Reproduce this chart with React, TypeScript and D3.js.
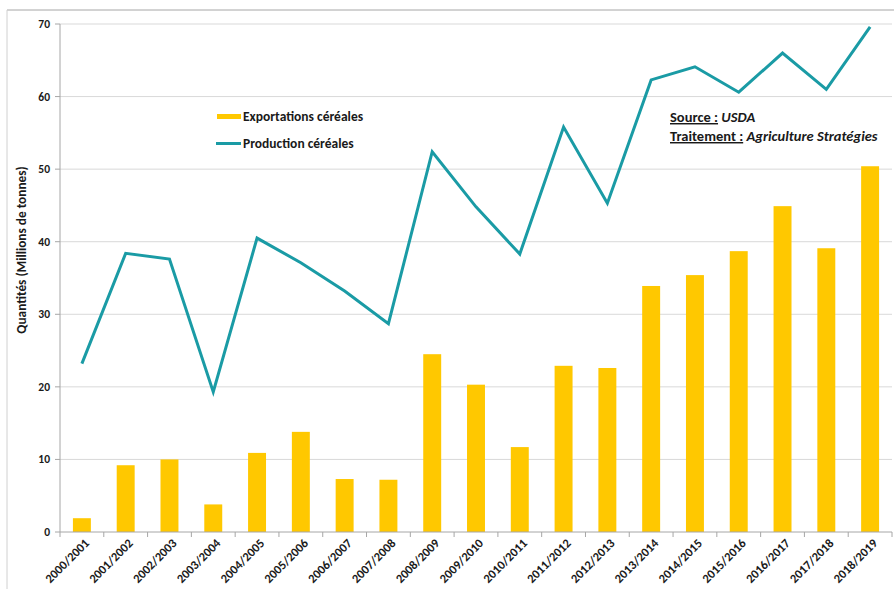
import React from "react";
import * as d3 from "d3";

const categories = ["2000/2001","2001/2002","2002/2003","2003/2004","2004/2005","2005/2006","2006/2007","2007/2008","2008/2009","2009/2010","2010/2011","2011/2012","2012/2013","2013/2014","2014/2015","2015/2016","2016/2017","2017/2018","2018/2019"];
const exportations = [1.9, 9.2, 10.0, 3.8, 10.9, 13.8, 7.3, 7.2, 24.5, 20.3, 11.7, 22.9, 22.6, 33.9, 35.4, 38.7, 44.9, 39.1, 50.4];
const production = [23.2, 38.4, 37.6, 19.3, 40.5, 37.1, 33.2, 28.7, 52.4, 44.8, 38.3, 55.8, 45.3, 62.3, 64.1, 60.6, 66.0, 61.0, 69.6];
const yTicks = [0, 10, 20, 30, 40, 50, 60, 70];

const W = 894, H = 589;
const left = 60, right = 892, top = 24, bottom = 532;
const BAR = "#FFC800";
const LINE = "#1A9BA5";
const FONT = "Carlito, Calibri, Lato, 'Open Sans', sans-serif";

export default function App() {
  const x = d3.scaleBand<string>().domain(categories).range([left, right]).paddingInner(0).paddingOuter(0);
  const y = d3.scaleLinear().domain([0, 70]).range([bottom, top]);
  const bw = x.bandwidth() * 0.41;
  const cx = (c: string) => (x(c) as number) + x.bandwidth() / 2;
  const line = d3.line<number>().x((_, i) => cx(categories[i])).y((v) => y(v));

  return (
    <div style={{ position: "absolute", left: 0, top: 0 }}>
      <svg width={W} height={H} style={{ display: "block", fontFamily: FONT }}>
        <rect x={0} y={0} width={W} height={H} fill="#fff" />
        <line x1={7} x2={W} y1={10} y2={10} stroke="#a6a6a6" strokeWidth={1} />
        <line x1={7} x2={7} y1={10} y2={H} stroke="#d0d0d0" strokeWidth={1} />
        {yTicks.map((t) => (
          <g key={t}>
            {t > 0 && <line x1={left} x2={right} y1={y(t)} y2={y(t)} stroke="#d9d9d9" strokeWidth={1} />}
            <line x1={left - 5} x2={left} y1={y(t)} y2={y(t)} stroke="#a6a6a6" />
            <text x={left - 10} y={y(t)} dy="0.35em" textAnchor="end" fontSize={11.5} fontWeight="bold" fill="#1a1a1a">{t}</text>
          </g>
        ))}
        <line x1={left} x2={left} y1={top} y2={bottom} stroke="#a6a6a6" />
        <text transform={`translate(26,250) rotate(-90)`} textAnchor="middle" fontSize={13.3} fontWeight="bold" fill="#1a1a1a">Quantités (Millions de tonnes)</text>
        {exportations.map((v, i) => (
          <rect key={i} x={cx(categories[i]) - bw / 2} y={y(v)} width={bw} height={y(0) - y(v)} fill={BAR} />
        ))}
        <line x1={left} x2={right} y1={bottom} y2={bottom} stroke="#a6a6a6" />
        {categories.map((c) => (
          <line key={c} x1={x(c) as number} x2={x(c) as number} y1={bottom} y2={bottom + 5} stroke="#a6a6a6" />
        ))}
        <line x1={right} x2={right} y1={bottom} y2={bottom + 5} stroke="#a6a6a6" />
        {categories.map((c) => (
          <text key={c} transform={`translate(${cx(c) + 5},${bottom + 9}) rotate(-45)`} textAnchor="end" dy="0.35em" fontSize={12.5} fontWeight="bold" fill="#1a1a1a">{c}</text>
        ))}
        <path d={line(production) || ""} fill="none" stroke={LINE} strokeWidth={3} strokeLinejoin="miter" />
        <rect x={217} y={114} width={24} height={5} fill={BAR} />
        <text x={243} y={116.5} dy="0.35em" fontSize={13.5} fontWeight="bold" fill="#1a1a1a">Exportations céréales</text>
        <line x1={216} x2={241} y1={143.5} y2={143.5} stroke={LINE} strokeWidth={3} />
        <text x={243} y={143.5} dy="0.35em" fontSize={13.5} fontWeight="bold" fill="#1a1a1a">Production céréales</text>
        <text x={670} y={122} fontSize={14.5} fontWeight="bold" fill="#1a1a1a">
          <tspan textDecoration="underline">Source :</tspan>
          <tspan fontStyle="italic"> USDA</tspan>
        </text>
        <text x={670} y={141} fontSize={14.5} fontWeight="bold" fill="#1a1a1a">
          <tspan textDecoration="underline">Traitement :</tspan>
          <tspan fontStyle="italic"> Agriculture Stratégies</tspan>
        </text>
      </svg>
    </div>
  );
}
